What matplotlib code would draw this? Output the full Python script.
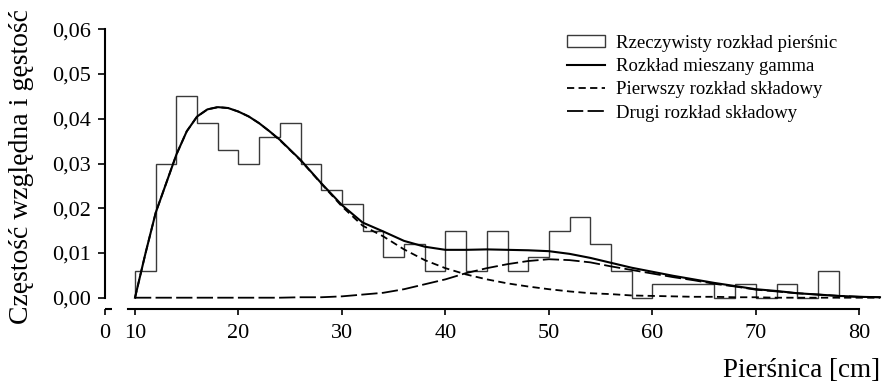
import numpy as np
import matplotlib
matplotlib.use("Agg")
import matplotlib.pyplot as plt
from matplotlib.patches import Patch
from matplotlib.lines import Line2D
from matplotlib.transforms import offset_copy

plt.rcParams['font.family'] = ['Liberation Serif', 'DejaVu Serif']

# histogram (relative frequency / class width), classes 2 cm wide
bin_edges = [10, 12, 14, 16, 18, 20, 22, 24, 26, 28, 30, 32, 34, 36, 38, 40,
             42, 44, 46, 48, 50, 52, 54, 56, 58, 60, 62, 64, 66, 68, 70, 72,
             74, 76, 78]
hist_vals = [0.006, 0.030, 0.045, 0.039, 0.033, 0.030, 0.036, 0.039, 0.030,
             0.024, 0.021, 0.015, 0.009, 0.012, 0.006, 0.015, 0.006, 0.015,
             0.006, 0.009, 0.015, 0.018, 0.012, 0.006, 0.000, 0.003, 0.003,
             0.003, 0.000, 0.003, 0.000, 0.003, 0.000, 0.006]

# density curves
dbh = [10, 11, 12, 13, 14, 15, 16, 17, 18, 19, 20, 21, 22, 23, 24, 26, 28,
       30, 32, 34, 36, 38, 40, 42, 44, 46, 48, 50, 52, 54, 56, 58, 60, 62,
       64, 66, 68, 70, 72, 74, 76, 78, 80, 82]
mix_pdf = [0.0, 0.0098, 0.0190, 0.0255, 0.0320, 0.0372, 0.0405, 0.0421,
           0.0426, 0.0424, 0.0416, 0.0405, 0.0390, 0.0372, 0.0353, 0.0308,
           0.0256, 0.0207, 0.0168, 0.0148, 0.0127, 0.0114, 0.0107, 0.0107,
           0.0108, 0.0107, 0.0106, 0.0104, 0.0098, 0.0089, 0.0078, 0.0067,
           0.0058, 0.0049, 0.0041, 0.0033, 0.0026, 0.0019, 0.0015, 0.0010,
           0.0007, 0.0004, 0.0002, 0.0001]
comp1_pdf = [0.0, 0.0098, 0.0190, 0.0255, 0.0320, 0.0372, 0.0405, 0.0421,
             0.0426, 0.0424, 0.0416, 0.0405, 0.0390, 0.0372, 0.0352, 0.0307,
             0.0255, 0.0204, 0.0161, 0.0137, 0.0108, 0.0084, 0.0066, 0.0052,
             0.0041, 0.0032, 0.0025, 0.0019, 0.0014, 0.0010, 0.0008, 0.0005,
             0.0004, 0.0003, 0.0002, 0.0002, 0.0001, 0.0001, 0.0, 0.0, 0.0,
             0.0, 0.0, 0.0]
comp2_pdf = [0.0, 0.0, 0.0, 0.0, 0.0, 0.0, 0.0, 0.0, 0.0, 0.0, 0.0, 0.0, 0.0,
             0.0, 0.0, 0.0001, 0.0001, 0.0003, 0.0007, 0.0011, 0.0019, 0.0030,
             0.0041, 0.0055, 0.0066, 0.0075, 0.0082, 0.0086, 0.0084, 0.0079,
             0.0070, 0.0062, 0.0054, 0.0046, 0.0039, 0.0031, 0.0025, 0.0018,
             0.0014, 0.0010, 0.0007, 0.0004, 0.0002, 0.0001]

x_ticks = [7.1, 10, 20, 30, 40, 50, 60, 70, 80]
x_labels = ['0', '10', '20', '30', '40', '50', '60', '70', '80']
y_ticks = [0.0, 0.01, 0.02, 0.03, 0.04, 0.05, 0.06]
y_labels = ['0,00', '0,01', '0,02', '0,03', '0,04', '0,05', '0,06']

labels = ['Rzeczywisty rozkład pierśnic', 'Rozkład mieszany gamma',
          'Pierwszy rozkład składowy', 'Drugi rozkład składowy']

W, H = 886, 383
fig = plt.figure(figsize=(W / 100, H / 100), dpi=100)
ax = fig.add_axes([105 / W, 1 - 297.7 / H, 775 / W, 268.4 / H])

hist_color = '#3a3a3a'
ax.stairs(hist_vals, bin_edges, baseline=0, color=hist_color, lw=1.0,
          clip_on=False)
short_dash = (4, 2.4)
long_dash = (9, 2.4)
ax.plot(dbh, comp1_pdf, color='black', lw=1.3, dashes=short_dash,
        clip_on=False)
ax.plot(dbh, comp2_pdf, color='black', lw=1.3, dashes=long_dash,
        clip_on=False)
ax.plot(dbh, mix_pdf, color='black', lw=1.5, clip_on=False)

ax.set_xlim(7.1, 82)
ax.set_ylim(0, 0.06)

for s in ['top', 'right']:
    ax.spines[s].set_visible(False)
ax.spines['left'].set_bounds(0, 0.06)
ax.spines['left'].set_linewidth(1.5)
ax.spines['bottom'].set_position(('outward', 8))
ax.spines['bottom'].set_bounds(9.3, 80)
ax.spines['bottom'].set_linewidth(1.5)

# short piece of axis at zero (broken scale)
stub_tr = offset_copy(ax.get_xaxis_transform(), fig=fig, y=-8, units='points')
ax.plot([7.1, 7.75], [0, 0], color='black', lw=1.5, transform=stub_tr,
        clip_on=False, solid_capstyle='butt')

ax.set_xticks(x_ticks)
ax.set_xticklabels(x_labels)
ax.set_yticks(y_ticks)
ax.set_yticklabels(y_labels)
ax.tick_params(axis='x', direction='out', length=4, width=1.2, pad=7,
               labelsize=16)
ax.tick_params(axis='y', direction='out', length=5, width=1.2, pad=5,
               labelsize=16)

fig.text(22 / W, 1 - 167 / H, 'Częstość względna i gęstość', rotation=90,
         ha='center', va='center', fontsize=20)
fig.text(880 / W, 1 - 377 / H, 'Pierśnica [cm]', ha='right', va='baseline',
         fontsize=19.5)

handles = [Patch(facecolor='white', edgecolor=hist_color, lw=1.0),
           Line2D([], [], color='black', lw=1.5),
           Line2D([], [], color='black', lw=1.3, dashes=short_dash),
           Line2D([], [], color='black', lw=1.3, dashes=long_dash)]
ax.legend(handles, labels, loc='upper left',
          bbox_to_anchor=(567 / W, 1 - 35 / H), bbox_transform=fig.transFigure,
          frameon=False, fontsize=13.5, handlelength=2.0, handleheight=0.6,
          handletextpad=0.6, borderpad=0, borderaxespad=0, labelspacing=0.33)

fig.savefig('out.png', dpi=100)
